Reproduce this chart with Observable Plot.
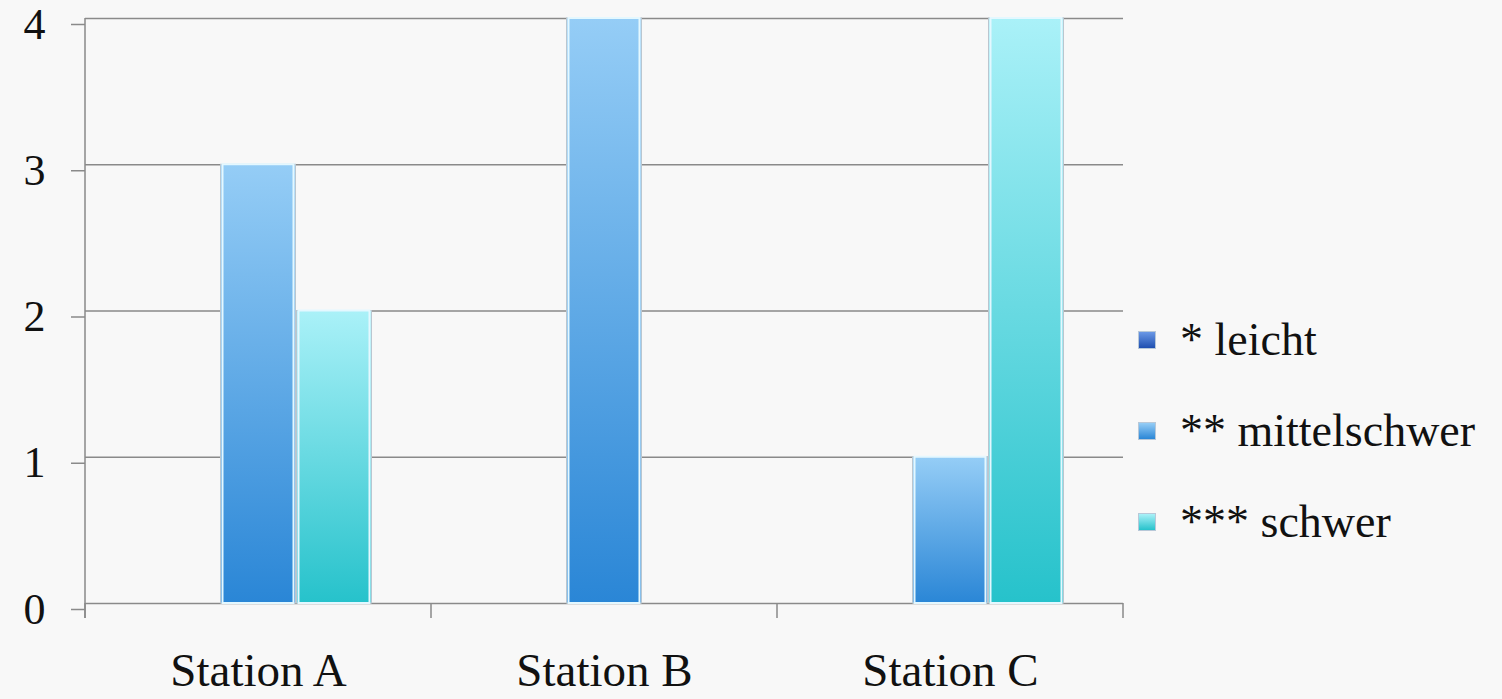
<!DOCTYPE html>
<html>
<head>
<meta charset="utf-8">
<script src="https://cdn.jsdelivr.net/npm/d3@7"></script>
<script src="https://cdn.jsdelivr.net/npm/@observablehq/plot@0.6"></script>
<style>
  body { margin: 0; background: #f8f8f8; }
  #wrap { position: relative; width: 1502px; height: 699px; font-family: "Liberation Serif", serif; }
  #legend { position: absolute; left: 1138px; top: 294px; }
  .row { display: flex; align-items: center; height: 91px; font-size: 46px; color: #111; white-space: nowrap; }
  .sw { display: inline-block; flex: 0 0 18px; width: 18px; height: 18px; margin-right: 24px; border: 1px solid #b8c8d8; box-sizing: border-box; }
</style>
</head>
<body>
<div id="wrap"></div>
<script>
const stations = ["Station A", "Station B", "Station C"];
const series = ["* leicht", "** mittelschwer", "*** schwer"];
const leicht = [0, 0, 0];
const mittelschwer = [3, 4, 1];
const schwer = [2, 0, 4];
const yTicks = [0, 1, 2, 3, 4];
const gradTop = ["#6a98e6", "#95cdf6", "#aaf1f8"];
const gradBottom = ["#1f4fb0", "#2a86d6", "#26c2cb"];

const values = [leicht, mittelschwer, schwer];
const rows = [];
stations.forEach((s, i) => series.forEach((k, j) => rows.push({station: s, series: k, value: values[j][i]})));

const gradIds = series.map((_, j) => "grad" + j);

const chart = Plot.plot({
  width: 1502,
  height: 699,
  marginLeft: 84,
  marginRight: 378,
  marginTop: 18,
  marginBottom: 96,
  style: {background: "transparent", fontFamily: "'Liberation Serif', serif", color: "#111"},
  fx: {domain: stations, padding: 0, label: null},
  x: {domain: series, paddingInner: 0, paddingOuter: 0.76, axis: null},
  y: {domain: [0, 4], label: null},
  color: {domain: series, range: gradIds.map(id => `url(#${id})`)},
  marks: [
    Plot.ruleY(yTicks, {stroke: "#8a8a8a", strokeWidth: 1.5}),
    Plot.barY(rows, {fx: "station", x: "series", y: "value", fill: "series", stroke: "#b9c6d0", strokeWidth: 1, insetLeft: 0.5, insetRight: 0.5}),
    Plot.barY(rows, {fx: "station", x: "series", y: "value", fill: "none", stroke: "#e4f8ff", strokeWidth: 2, insetLeft: 2.5, insetRight: 2.5}),
    Plot.axisY({ticks: yTicks, tickFormat: "d", tickSize: 14, tickPadding: 26, fontSize: 44, stroke: "#8a8a8a", strokeWidth: 1.5, dy: 6, label: null}),
    Plot.axisFx({anchor: "bottom", tickSize: 0, tickPadding: 49, fontSize: 47, label: null})
  ]
});

const svg = d3.select(chart);
const defs = svg.insert("defs", ":first-child");
gradIds.forEach((id, j) => {
  const g = defs.append("linearGradient").attr("id", id).attr("x1", 0).attr("y1", 0).attr("x2", 0).attr("y2", 1);
  g.append("stop").attr("offset", "0%").attr("stop-color", gradTop[j]);
  g.append("stop").attr("offset", "100%").attr("stop-color", gradBottom[j]);
});

const fx = chart.scale("fx");
const y = chart.scale("y");
const y0 = y.apply(0), yTop = y.apply(yTicks[yTicks.length - 1]);
const bounds = stations.map(s => fx.apply(s)).concat([fx.apply(stations[stations.length - 1]) + fx.bandwidth]);
const gl = svg.append("g").attr("stroke", "#8a8a8a").attr("stroke-width", 1.5);
gl.append("line").attr("x1", bounds[0]).attr("x2", bounds[0]).attr("y1", yTop).attr("y2", y0 + 15);
bounds.forEach(b => gl.append("line").attr("x1", b).attr("x2", b).attr("y1", y0).attr("y2", y0 + 15));

const wrap = document.getElementById("wrap");
wrap.appendChild(chart);

const legend = document.createElement("div");
legend.id = "legend";
series.forEach((k, j) => {
  const r = document.createElement("div");
  r.className = "row";
  const sw = document.createElement("span");
  sw.className = "sw";
  sw.style.background = `linear-gradient(${gradTop[j]}, ${gradBottom[j]})`;
  const t = document.createElement("span");
  t.textContent = k;
  r.appendChild(sw);
  r.appendChild(t);
  legend.appendChild(r);
});
wrap.appendChild(legend);
</script>
</body>
</html>
